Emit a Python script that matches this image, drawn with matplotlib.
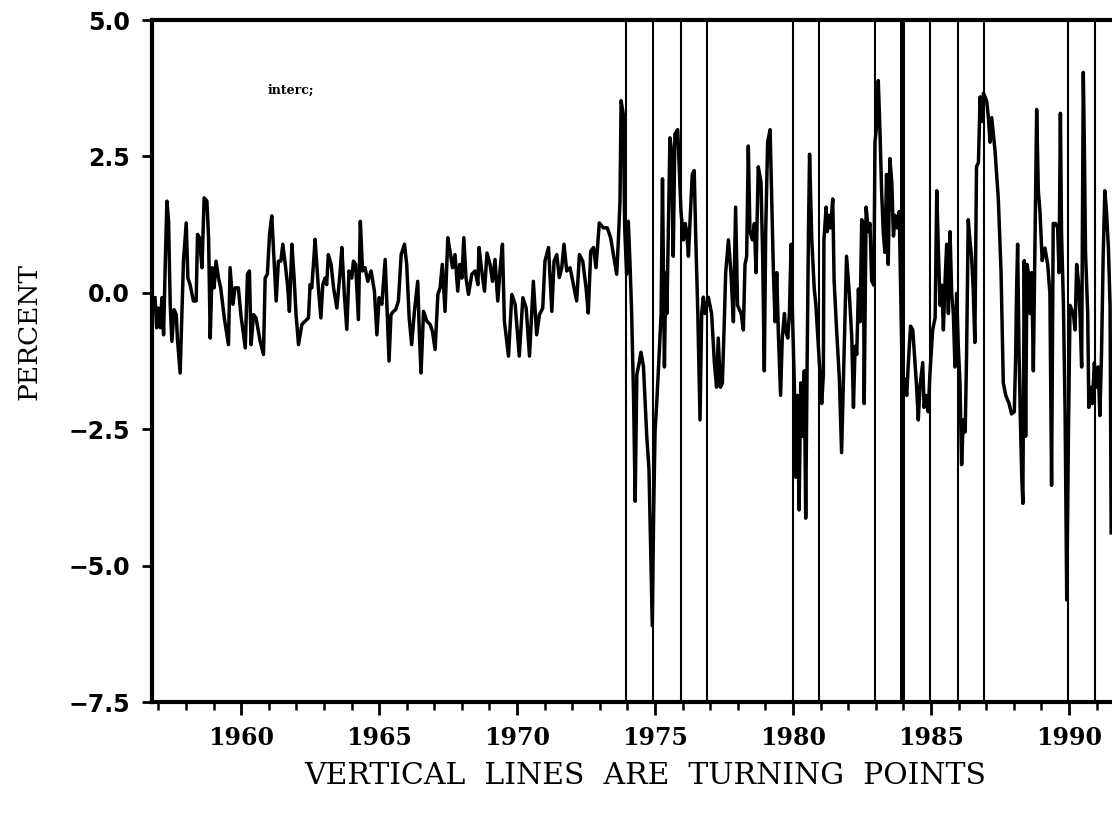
import numpy as np
import matplotlib
matplotlib.use("Agg")
import matplotlib.pyplot as plt
from matplotlib.ticker import MultipleLocator

# ====== 数据 (从图中读取, 年份 / 百分比) ======
yrs_57_63 = [1956.88, 1956.94, 1957.00, 1957.07, 1957.13, 1957.19, 1957.25, 1957.31, 1957.37, 1957.43,
             1957.49, 1957.57, 1957.65, 1957.69, 1957.79, 1957.85, 1957.91, 1958.01, 1958.07, 1958.15,
             1958.27, 1958.37, 1958.42, 1958.49, 1958.58, 1958.66, 1958.76, 1958.82, 1958.88, 1958.95,
             1959.02, 1959.09, 1959.18, 1959.26, 1959.39, 1959.54, 1959.60, 1959.70, 1959.78, 1959.90,
             1959.99, 1960.15, 1960.23, 1960.30, 1960.36, 1960.45, 1960.54, 1960.69, 1960.81, 1960.87,
             1960.95, 1961.03, 1961.11, 1961.20, 1961.27, 1961.35, 1961.44, 1961.51, 1961.60, 1961.68,
             1961.75, 1961.84, 1961.92, 1961.99, 1962.08, 1962.20, 1962.32, 1962.44, 1962.50, 1962.56,
             1962.62, 1962.68, 1962.74, 1962.80, 1962.89, 1962.96, 1963.04, 1963.10, 1963.16]
pct_57_63 = [-0.09, -0.64, -0.28, -0.64, -0.09, -0.77, 0.52, 1.68, 1.31, -0.21,
             -0.89, -0.31, -0.40, -0.83, -1.47, -0.46, 0.58, 1.28, 0.27, 0.15,
             -0.15, -0.15, 1.07, 1.01, 0.46, 1.74, 1.68, 1.01, -0.83, 0.46,
             0.09, 0.58, 0.27, 0.09, -0.46, -0.95, 0.46, -0.21, 0.09, 0.09,
             -0.40, -1.01, 0.34, 0.40, -0.95, -0.40, -0.46, -0.89, -1.13, 0.27,
             0.34, 1.07, 1.41, 0.52, -0.15, 0.58, 0.58, 0.89, 0.52, 0.15,
             -0.34, 0.89, 0.27, -0.40, -0.95, -0.58, -0.52, -0.46, 0.15, 0.09,
             0.52, 0.98, 0.52, 0.09, -0.46, 0.15, 0.27, 0.15, 0.70]

yrs_63_69 = [1963.26, 1963.35, 1963.47, 1963.59, 1963.65, 1963.74, 1963.83, 1963.91, 1964.01, 1964.07,
             1964.15, 1964.25, 1964.32, 1964.40, 1964.49, 1964.59, 1964.71, 1964.83, 1964.92, 1965.00,
             1965.10, 1965.22, 1965.29, 1965.36, 1965.43, 1965.52, 1965.60, 1965.70, 1965.80, 1965.92,
             1966.00, 1966.09, 1966.18, 1966.28, 1966.40, 1966.46, 1966.52, 1966.61, 1966.73, 1966.85,
             1966.93, 1967.03, 1967.13, 1967.21, 1967.29, 1967.39, 1967.49, 1967.57, 1967.66, 1967.75,
             1967.85, 1967.92, 1968.00, 1968.07, 1968.15, 1968.24, 1968.36, 1968.48, 1968.58, 1968.62,
             1968.72, 1968.82, 1968.91, 1969.02, 1969.11, 1969.20, 1969.30, 1969.38, 1969.47, 1969.54]
pct_63_69 = [0.52, 0.09, -0.28, 0.40, 0.83, -0.03, -0.67, 0.40, 0.27, 0.58,
             0.52, -0.49, 1.31, 0.40, 0.46, 0.21, 0.40, 0.03, -0.77, -0.09,
             -0.21, 0.61, -0.34, -1.25, -0.40, -0.34, -0.31, -0.15, 0.70, 0.89,
             0.52, -0.46, -0.95, -0.34, 0.21, -0.77, -1.47, -0.34, -0.52, -0.58,
             -0.70, -1.04, -0.03, 0.09, 0.52, -0.34, 1.01, 0.76, 0.46, 0.70,
             0.03, 0.52, 0.27, 1.01, 0.27, -0.03, 0.34, 0.40, 0.15, 0.83,
             0.40, 0.03, 0.73, 0.52, 0.21, 0.61, -0.15, 0.40, 0.89, -0.52]

yrs_69_74 = [1969.69, 1969.81, 1969.93, 1970.08, 1970.21, 1970.33, 1970.45, 1970.59, 1970.71, 1970.81,
             1970.93, 1971.01, 1971.14, 1971.26, 1971.34, 1971.44, 1971.53, 1971.62, 1971.70, 1971.80,
             1971.92, 1972.02, 1972.16, 1972.26, 1972.38, 1972.50, 1972.58, 1972.67, 1972.77, 1972.86,
             1972.98, 1973.13, 1973.27, 1973.39, 1973.49, 1973.61, 1973.67, 1973.73, 1973.77, 1973.85,
             1973.90, 1973.97, 1974.03, 1974.09, 1974.15, 1974.22, 1974.28, 1974.34, 1974.42]
pct_69_74 = [-1.16, -0.03, -0.21, -1.16, -0.09, -0.28, -1.16, 0.21, -0.77, -0.40,
             -0.28, 0.58, 0.83, -0.34, 0.58, 0.70, 0.28, 0.46, 0.89, 0.40,
             0.46, 0.21, -0.15, 0.70, 0.58, 0.09, -0.37, 0.76, 0.83, 0.46,
             1.28, 1.19, 1.19, 1.01, 0.70, 0.34, 0.95, 1.68, 3.52, 3.27,
             1.19, 0.34, 1.31, 0.58, -0.34, -1.87, -3.82, -1.50, -1.30]

yrs_74_80 = [1974.49, 1974.58, 1974.70, 1974.78, 1974.85, 1974.90, 1974.95, 1975.00, 1975.06, 1975.12,
             1975.22, 1975.27, 1975.34, 1975.39, 1975.43, 1975.48, 1975.54, 1975.60, 1975.66, 1975.72,
             1975.82, 1975.87, 1975.94, 1976.03, 1976.09, 1976.15, 1976.21, 1976.27, 1976.35, 1976.42,
             1976.47, 1976.55, 1976.63, 1976.69, 1976.75, 1976.81, 1976.93, 1977.05, 1977.15, 1977.23,
             1977.29, 1977.37, 1977.44, 1977.51, 1977.56, 1977.66, 1977.75, 1977.84, 1977.92, 1977.99,
             1978.12, 1978.20, 1978.26, 1978.32, 1978.38, 1978.44, 1978.53, 1978.60, 1978.66, 1978.74,
             1978.84, 1978.90, 1978.96, 1979.01, 1979.08, 1979.17, 1979.23, 1979.29, 1979.35, 1979.41,
             1979.47, 1979.55, 1979.61, 1979.69, 1979.73, 1979.81, 1979.87, 1979.93, 1979.98, 1980.05,
             1980.10, 1980.16, 1980.22, 1980.28, 1980.34, 1980.41, 1980.46, 1980.51, 1980.56, 1980.60,
             1980.68, 1980.77]
pct_74_80 = [-1.09, -1.35, -2.63, -3.23, -4.88, -6.10, -4.00, -2.55, -2.03, -1.43,
             -0.38, 2.09, -1.36, 0.37, -0.38, 1.12, 2.84, 2.61, 0.67, 2.91,
             2.99, 2.39, 1.49, 0.97, 1.27, 1.12, 0.67, 1.34, 2.17, 2.24,
             1.12, -0.38, -2.33, -0.38, -0.08, -0.38, -0.08, -0.38, -1.28, -1.73,
             -0.83, -1.73, -1.65, -0.53, 0.37, 0.97, 0.37, -0.53, 1.57, -0.23,
             -0.38, -0.68, 0.52, 0.67, 2.69, 1.12, 0.97, 1.27, 0.37, 2.31,
             2.02, 0.67, -1.43, 1.12, 2.76, 2.99, 1.72, 0.37, -0.53, 0.37,
             -0.76, -1.88, -0.83, -0.38, -0.68, -0.83, -0.38, 0.89, -0.38, -1.73,
             -3.38, -1.88, -3.98, -1.65, -2.63, -1.43, -4.13, -1.36, 1.12, 2.54,
             0.97, 0.07]

yrs_80_87 = [1980.83, 1980.92, 1980.98, 1981.04, 1981.10, 1981.12, 1981.20, 1981.24, 1981.32, 1981.36,
             1981.44, 1981.49, 1981.58, 1981.68, 1981.76, 1981.82, 1981.88, 1981.94, 1982.04, 1982.13,
             1982.19, 1982.25, 1982.31, 1982.37, 1982.43, 1982.49, 1982.55, 1982.58, 1982.65, 1982.73,
             1982.79, 1982.85, 1982.93, 1982.97, 1983.03, 1983.09, 1983.15, 1983.21, 1983.27, 1983.33,
             1983.39, 1983.45, 1983.51, 1983.58, 1983.64, 1983.70, 1983.78, 1983.85, 1983.90, 1983.97,
             1984.06, 1984.12, 1984.18, 1984.26, 1984.34, 1984.40, 1984.48, 1984.54, 1984.60, 1984.70,
             1984.75, 1984.82, 1984.90, 1984.96, 1985.06, 1985.15, 1985.21, 1985.27, 1985.33, 1985.39,
             1985.45, 1985.51, 1985.57, 1985.63, 1985.69, 1985.75, 1985.81, 1985.87, 1985.93, 1985.99,
             1986.05, 1986.11, 1986.17, 1986.24, 1986.29, 1986.35, 1986.41, 1986.47, 1986.53, 1986.59,
             1986.65, 1986.72, 1986.78, 1986.84, 1986.90, 1986.96, 1987.02, 1987.08, 1987.14]
pct_80_87 = [-0.23, -0.98, -1.50, -2.03, -1.50, 0.97, 1.57, 1.12, 1.42, 1.19,
             1.72, 0.22, -0.68, -1.58, -2.93, -1.73, -0.53, 0.67, -0.01, -0.83,
             -2.10, -0.98, -1.13, 0.07, -0.53, 1.34, 1.27, -2.03, 1.57, 1.12,
             1.27, 0.22, 0.14, 2.76, 3.06, 3.89, 2.99, 1.87, 1.12, 0.74,
             2.17, 0.52, 2.46, 2.02, 1.04, 1.42, 1.19, 1.49, 0.07, -1.88,
             -1.58, -1.88, -1.28, -0.61, -0.68, -1.13, -1.73, -2.33, -1.73, -1.28,
             -2.10, -1.88, -2.18, -1.50, -0.68, -0.46, 1.87, 0.74, -0.23, 0.14,
             -0.68, 0.22, 0.89, -0.38, 1.12, -0.01, -0.38, -1.36, -0.01, -0.98,
             -1.65, -3.15, -2.33, -2.55, -1.13, 1.34, 0.97, 0.67, 0.07, -0.91,
             2.31, 2.39, 3.59, 3.14, 3.66, 3.59, 3.51, 3.21, 2.76]

yrs_87_91 = [1987.20, 1987.26, 1987.32, 1987.44, 1987.54, 1987.62, 1987.71, 1987.83, 1987.92, 1988.02,
             1988.07, 1988.10, 1988.14, 1988.19, 1988.24, 1988.29, 1988.33, 1988.38, 1988.43, 1988.48,
             1988.53, 1988.59, 1988.65, 1988.71, 1988.77, 1988.83, 1988.89, 1988.95, 1989.03, 1989.13,
             1989.23, 1989.31, 1989.37, 1989.43, 1989.52, 1989.59, 1989.64, 1989.69, 1989.73, 1989.80,
             1989.86, 1989.92, 1989.98, 1990.04, 1990.10, 1990.16, 1990.22, 1990.28, 1990.34, 1990.40,
             1990.46, 1990.52, 1990.56, 1990.60, 1990.68, 1990.72, 1990.80, 1990.85, 1990.92, 1991.00,
             1991.06, 1991.12, 1991.18, 1991.24, 1991.30, 1991.36, 1991.43, 1991.49, 1991.53]
pct_87_91 = [3.21, 2.91, 2.61, 1.72, 0.37, -1.65, -1.88, -2.03, -2.22, -2.18,
             -1.13, -0.01, 0.89, -1.06, -2.33, -3.38, -3.86, 0.59, -2.63, 0.52,
             0.37, -0.38, 0.37, -1.43, 0.97, 3.36, 1.87, 1.49, 0.59, 0.82,
             0.52, -0.01, -3.53, 1.27, 1.27, 1.19, 0.37, 3.29, 1.12, -0.23,
             -2.18, -5.63, -2.63, -0.23, -0.31, -0.38, -0.68, 0.52, 0.22, -0.38,
             -1.36, 4.04, 2.61, 0.74, -0.38, -2.10, -1.73, -2.03, -1.28, -1.73,
             -1.36, -2.25, -1.13, 0.67, 1.87, 1.49, 0.82, -0.23, -4.40]

# 转折点 (竖线)
turning_points = [1973.95, 1974.92, 1975.95, 1976.90, 1980.00, 1980.93, 1982.97,
                  1983.95, 1984.97, 1985.98, 1986.93, 1989.98, 1990.93]
thick_tp = 1983.95

years = np.array(yrs_57_63 + yrs_63_69 + yrs_69_74 + yrs_74_80 + yrs_80_87 + yrs_87_91)
pct = np.array(pct_57_63 + pct_63_69 + pct_69_74 + pct_74_80 + pct_80_87 + pct_87_91)

# ====== 绘图 ======
W, H = 1112, 814
fig = plt.figure(figsize=(W / 100, H / 100), dpi=100)
ax = fig.add_axes([152 / W, 1 - 702 / H, 1 - 152 / W, (702 - 20) / H])

for tp in turning_points:
    ax.axvline(tp, color="black", lw=3.6 if tp == thick_tp else 1.5, zorder=2)
ax.plot(years, pct, color="black", lw=2.5, solid_joinstyle="round", zorder=3)

ax.set_xlim(1956.77, 1991.56)
ax.set_ylim(-7.5, 5.0)

for side in ["left", "bottom", "top"]:
    ax.spines[side].set_linewidth(3)
ax.spines["right"].set_visible(False)

ax.yaxis.set_major_locator(MultipleLocator(2.5))
ax.xaxis.set_major_locator(MultipleLocator(5))
ax.xaxis.set_minor_locator(MultipleLocator(1))
ax.tick_params(axis="y", direction="out", length=7, width=2, pad=9)
ax.tick_params(axis="x", which="major", direction="out", length=9, width=2, pad=8)
ax.tick_params(axis="x", which="minor", direction="out", length=6, width=1.8)

ax.set_yticklabels([f"{v:.1f}".replace("-", "\u2212") for v in ax.get_yticks()],
                   fontsize=17, fontweight="bold", family="DejaVu Sans")
ax.set_xticklabels([f"{int(v)}" for v in ax.get_xticks()],
                   fontsize=17, fontweight="bold", family="DejaVu Serif")

fig.text(29 / W, 1 - 331 / H, "PERCENT", rotation=90, ha="center", va="center",
         fontsize=19, family="DejaVu Serif")
fig.text(645 / W, 1 - 776 / H, "VERTICAL  LINES  ARE  TURNING  POINTS", ha="center", va="center",
         fontsize=21.5, family="DejaVu Serif")

# 扫描残留的小字
fig.text(268 / W, 1 - 94 / H, "interc;", fontsize=9, fontweight="bold", family="DejaVu Serif")

fig.savefig("out.png", dpi=100)
